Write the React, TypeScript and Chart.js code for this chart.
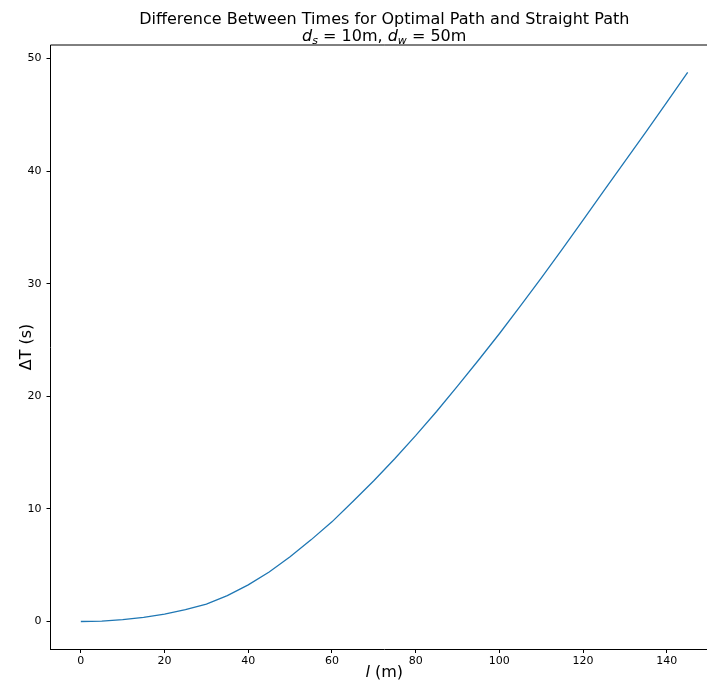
import React, { useEffect, useRef } from "react";
import { Chart, registerables } from "chart.js";

Chart.register(...registerables);

// Horizontal offset l (m)
const lengths = [0, 5, 10, 15, 20, 25, 30, 35, 40, 45, 50, 55, 60, 65, 70, 75, 80, 85, 90, 95, 100, 105, 110, 115, 120, 125, 130, 135, 140, 145];
// Time difference ΔT (s)
const deltaT = [0, 0.04, 0.16, 0.37, 0.66, 1.05, 1.55, 2.3, 3.25, 4.4, 5.75, 7.25, 8.85, 10.65, 12.5, 14.45, 16.5, 18.65, 20.9, 23.2, 25.55, 28.0, 30.5, 33.05, 35.65, 38.25, 40.85, 43.45, 46.1, 48.75];

const xTicks = [0, 20, 40, 60, 80, 100, 120, 140];
const yTicks = [0, 10, 20, 30, 40, 50];

const titleLine1 = "Difference Between Times for Optimal Path and Straight Path";
const titleLine2 = [
  { t: "d", italic: true, sub: false },
  { t: "s", italic: true, sub: true },
  { t: " = 10m, ", italic: false, sub: false },
  { t: "d", italic: true, sub: false },
  { t: "w", italic: true, sub: true },
  { t: " = 50m", italic: false, sub: false },
];
const yLabel = "ΔT (s)";

const FONT = '"DejaVu Sans"';

const overlay = {
  id: "overlay",
  afterDraw(chart: any) {
    const { ctx, chartArea: a } = chart;
    ctx.save();
    ctx.strokeStyle = "#000";
    ctx.lineWidth = 1;
    ctx.beginPath();
    ctx.moveTo(a.left, a.top);
    ctx.lineTo(a.right, a.top);
    ctx.lineTo(a.right, a.bottom);
    ctx.stroke();

    const cx = (a.left + a.right) / 2;
    ctx.fillStyle = "#000";
    ctx.textBaseline = "alphabetic";
    ctx.textAlign = "center";
    ctx.font = `16px ${FONT}`;
    ctx.fillText(titleLine1, cx, 24);

    // line 2 with math-style subscripts
    const segFont = (s: any) => `${s.italic ? "italic " : ""}${s.sub ? 11 : 16}px ${FONT}`;
    let total = 0;
    for (const s of titleLine2) {
      ctx.font = segFont(s);
      total += ctx.measureText(s.t).width;
    }
    ctx.textAlign = "left";
    let x = cx - total / 2;
    for (const s of titleLine2) {
      ctx.font = segFont(s);
      ctx.fillText(s.t, x, s.sub ? 44 : 41);
      x += ctx.measureText(s.t).width;
    }

    // x label: italic l + " (m)"
    ctx.font = `italic 16px ${FONT}`;
    const w1 = ctx.measureText("l").width;
    ctx.font = `16px ${FONT}`;
    const w2 = ctx.measureText(" (m)").width;
    let xl = cx - (w1 + w2) / 2;
    ctx.font = `italic 16px ${FONT}`;
    ctx.fillText("l", xl, 677);
    ctx.font = `16px ${FONT}`;
    ctx.fillText(" (m)", xl + w1, 677);

    // y label
    ctx.translate(30.5, (a.top + a.bottom) / 2);
    ctx.rotate(-Math.PI / 2);
    ctx.textAlign = "center";
    ctx.fillText(yLabel, 0, 0);
    ctx.restore();
  },
};

export default function App() {
  const ref = useRef<HTMLCanvasElement | null>(null);
  useEffect(() => {
    if (!ref.current) return;
    Chart.defaults.font.family = FONT;
    const chart = new Chart(ref.current, {
      type: "line",
      data: {
        datasets: [
          {
            data: lengths.map((l, i) => ({ x: l, y: deltaT[i] })),
            borderColor: "#1f77b4",
            borderWidth: 1.3,
            pointRadius: 0,
            tension: 0,
            fill: false,
          },
        ],
      },
      options: {
        animation: false,
        responsive: false,
        devicePixelRatio: 1,
        layout: { padding: { top: 45, right: 2, left: 0, bottom: 0 } },
        plugins: { legend: { display: false }, tooltip: { enabled: false }, title: { display: false } },
        scales: {
          x: {
            type: "linear",
            min: -7.25,
            max: 152.25,
            afterBuildTicks: (s: any) => {
              s.ticks = xTicks.map((v) => ({ value: v }));
            },
            afterFit: (s: any) => {
              s.height = 34;
            },
            grid: { drawOnChartArea: false, drawTicks: true, tickLength: 4, tickColor: "#000", tickWidth: 1 },
            border: { display: true, color: "#000", width: 1 },
            ticks: { color: "#000", font: { size: 11, family: FONT }, padding: 2, maxRotation: 0, autoSkip: false },
          },
          y: {
            type: "linear",
            min: -2.44,
            max: 51.19,
            afterBuildTicks: (s: any) => {
              s.ticks = yTicks.map((v) => ({ value: v }));
            },
            afterFit: (s: any) => {
              s.width = 50.5;
            },
            grid: { drawOnChartArea: false, drawTicks: true, tickLength: 4, tickColor: "#000", tickWidth: 1 },
            border: { display: true, color: "#000", width: 1 },
            ticks: { color: "#000", font: { size: 11, family: FONT }, padding: 5, autoSkip: false },
          },
        },
      },
      plugins: [overlay],
    } as any);
    return () => chart.destroy();
  }, []);
  return (
    <div style={{ position: "absolute", left: 0, top: 0, width: 707, height: 683, overflow: "hidden", background: "#fff" }}>
      <canvas ref={ref} width={720} height={683} style={{ display: "block" }} />
    </div>
  );
}
